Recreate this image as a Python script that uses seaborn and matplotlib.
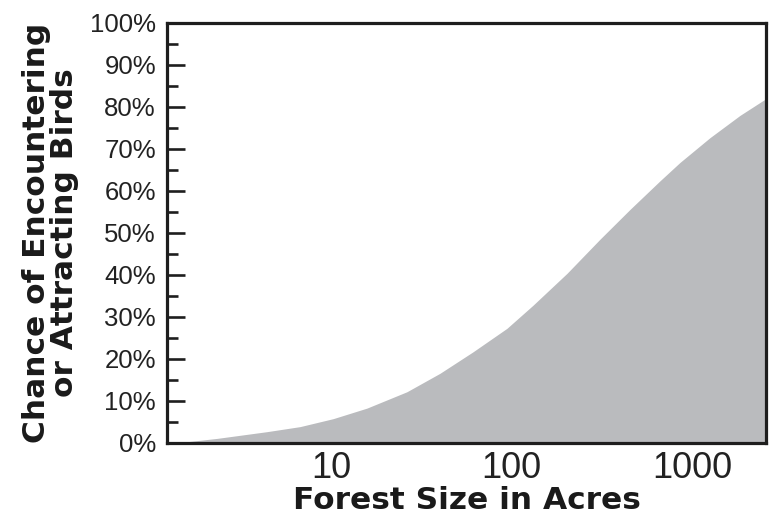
import matplotlib
matplotlib.use("Agg")
import matplotlib.pyplot as plt
import seaborn as sns
import pandas as pd
from matplotlib.ticker import FixedLocator, FuncFormatter, NullLocator

# Data
forest_acres = [1.24, 1.6, 2.35, 4.43, 6.75, 10.3, 15.8, 26.3, 40.1, 61, 94, 131,
                202, 307, 450, 659, 851, 1247, 1827, 2545]
chance_pct = [0.0, 0.3, 1.1, 2.7, 3.9, 5.8, 8.3, 12.2, 16.6, 21.7, 27.3, 32.8,
              40.4, 48.5, 55.6, 62.4, 66.8, 72.7, 78.0, 82.0]
x_ticks = [10, 100, 1000]
x_tick_labels = ["10", "100", "1000"]
y_ticks = [0, 10, 20, 30, 40, 50, 60, 70, 80, 90, 100]
y_minor_ticks = [5, 15, 25, 35, 45, 55, 65, 75, 85, 95]

sns.set_theme(style="ticks")
plt.rcParams["font.family"] = ["Liberation Sans", "DejaVu Sans"]

df = pd.DataFrame({"acres": forest_acres, "chance": chance_pct})

fig = plt.figure(figsize=(7.73, 5.22), dpi=100)
ax = fig.add_axes([167 / 773, (522 - 443) / 522, (766 - 167) / 773, (443 - 23) / 522])

sns.lineplot(data=df, x="acres", y="chance", ax=ax, color="#babbbe", linewidth=0)
ax.fill_between(df["acres"], 0, df["chance"], color="#babbbe", linewidth=0, zorder=1)

ax.set_xscale("log")
ax.set_xlim(1.24, 2545)
ax.set_ylim(0, 100)

ax.xaxis.set_major_locator(FixedLocator(x_ticks))
ax.xaxis.set_minor_locator(NullLocator())
ax.set_xticklabels(x_tick_labels)
ax.yaxis.set_major_locator(FixedLocator(y_ticks))
ax.yaxis.set_minor_locator(FixedLocator(y_minor_ticks))
ax.yaxis.set_major_formatter(FuncFormatter(lambda v, p: f"{v:.0f}%"))

for s in ax.spines.values():
    s.set_linewidth(2.3)
    s.set_color("#1e1e1e")
    s.set_visible(True)

ax.tick_params(axis="y", which="major", direction="in", length=13, width=1.9,
               color="#1e1e1e", labelsize=18.5, pad=8, labelcolor="#222222")
ax.tick_params(axis="y", which="minor", direction="in", length=8.2, width=1.9, color="#1e1e1e")
ax.tick_params(axis="x", which="major", direction="in", length=9.5, width=1.9,
               color="#1e1e1e", labelsize=26, pad=6, labelcolor="#222222")

label_font = ["DejaVu Sans"]
ax.set_xlabel("Forest Size in Acres", fontsize=22.5, fontweight="bold", family=label_font,
              color="#1a1a1a", labelpad=0)
ax.set_ylabel("Chance of Encountering\nor Attracting Birds", fontsize=22.5, fontweight="bold",
              family=label_font, color="#1a1a1a", linespacing=0.95, labelpad=8)

fig.savefig("out.png", dpi=100)
